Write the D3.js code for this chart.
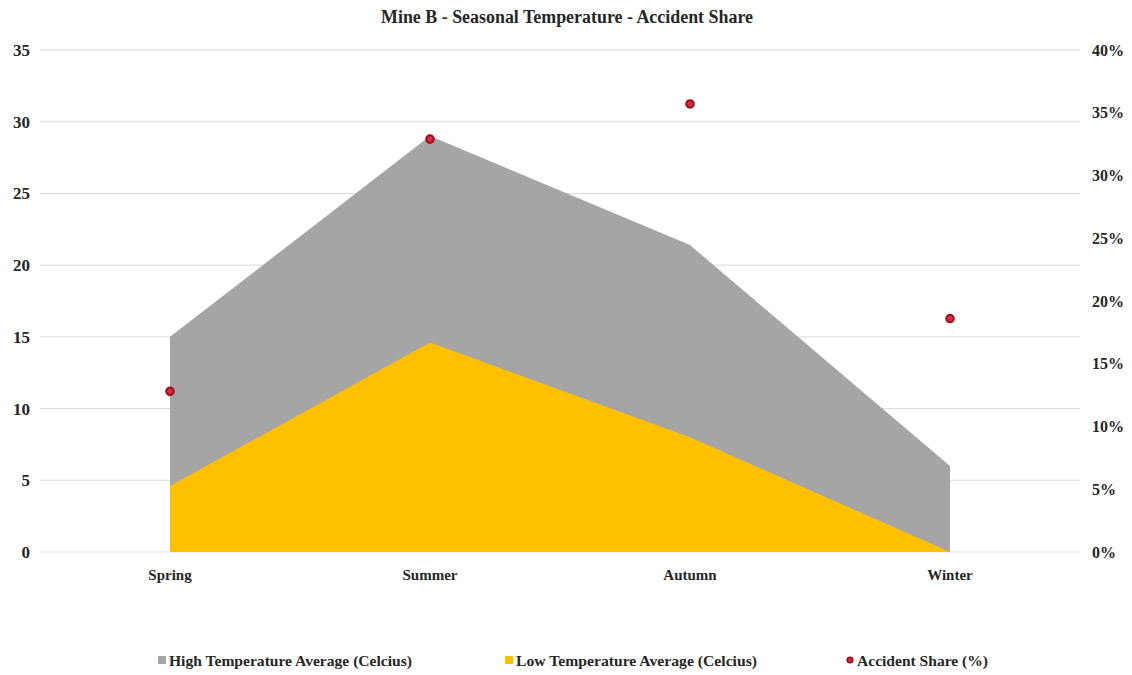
<!DOCTYPE html>
<html>
<head>
<meta charset="utf-8">
<script src="https://cdn.jsdelivr.net/npm/d3@7"></script>
<style>
  html, body { margin: 0; padding: 0; background: #ffffff; }
  svg { display: block; }
  text { font-family: "Liberation Serif", "Times New Roman", serif; font-weight: bold; fill: #262626; }
</style>
</head>
<body>
<svg id="chart" width="1132" height="675"></svg>
<script>
// Seasonal data for Mine B
const seasons = ["Spring", "Summer", "Autumn", "Winter"];
const highTemp = [15.0, 29.0, 21.4, 6.0];
const lowTemp = [4.6, 14.6, 8.0, 0.0];
const accidentShare = [12.8, 32.9, 35.7, 18.6];
const leftTicks = [0, 5, 10, 15, 20, 25, 30, 35];
const rightTicks = [0, 5, 10, 15, 20, 25, 30, 35, 40];

const svg = d3.select("#chart");
const margin = { left: 40, right: 52, top: 50, bottom: 123 };
const W = 1132, H = 675;
const x0 = margin.left, x1 = W - margin.right;
const y0 = H - margin.bottom, y1 = margin.top;

const x = d3.scaleBand().domain(seasons).range([x0, x1]);
const cx = d => x(d) + x.bandwidth() / 2;
const yL = d3.scaleLinear().domain([0, 35]).range([y0, y1]);
const yR = d3.scaleLinear().domain([0, 40]).range([y0, y1]);

// title
svg.append("text")
  .attr("x", W / 2 + 1).attr("y", 23)
  .attr("text-anchor", "middle")
  .attr("textLength", 372).attr("lengthAdjust", "spacingAndGlyphs")
  .style("font-size", "18px")
  .text("Mine B - Seasonal Temperature - Accident Share");

// gridlines
svg.append("g").selectAll("line").data(leftTicks).join("line")
  .attr("x1", x0).attr("x2", x1)
  .attr("y1", d => yL(d)).attr("y2", d => yL(d))
  .attr("stroke", "#d9d9d9").attr("stroke-width", 1);

function styleTicks(g, size) {
  g.select(".domain").remove();
  g.selectAll("text")
    .style("font-size", size)
    .style("font-family", "Liberation Serif")
    .style("font-weight", "bold")
    .attr("fill", "#262626");
}

// left axis labels
const gL = svg.append("g").attr("transform", `translate(${x0},0)`)
  .call(d3.axisLeft(yL).tickValues(leftTicks).tickSize(0).tickPadding(10).tickFormat(d3.format("d")));
styleTicks(gL, "17px");

// right axis labels
const gR = svg.append("g").attr("transform", `translate(${x1},0)`)
  .call(d3.axisRight(yR).tickValues(rightTicks).tickSize(0).tickPadding(12).tickFormat(d => d + "%"));
styleTicks(gR, "16px");

// areas (overlapping, high behind low)
const area = d3.area().x((d, i) => cx(seasons[i])).y0(yL(0)).y1(d => yL(d));
svg.append("path").datum(highTemp).attr("d", area).attr("fill", "#a5a5a5");
svg.append("path").datum(lowTemp).attr("d", area).attr("fill", "#ffc000");

// category labels
const gX = svg.append("g").attr("transform", `translate(0,${y0})`)
  .call(d3.axisBottom(x).tickSize(0).tickPadding(17));
styleTicks(gX, "15px");

// accident share markers
svg.append("g").selectAll("circle").data(accidentShare).join("circle")
  .attr("cx", (d, i) => cx(seasons[i]))
  .attr("cy", d => yR(d))
  .attr("r", 3.8)
  .attr("fill", "#d8283a")
  .attr("stroke", "#9c0f1c")
  .attr("stroke-width", 2);

// legend
const ly = 661;
const legend = svg.append("g");
const items = [
  { label: "High Temperature Average (Celcius)", color: "#a5a5a5", kind: "rect", x: 158, w: 243 },
  { label: "Low Temperature Average (Celcius)", color: "#ffc000", kind: "rect", x: 505, w: 241 },
  { label: "Accident Share (%)", color: "#d8283a", kind: "circle", x: 846, w: 131 }
];
items.forEach(it => {
  if (it.kind === "rect") {
    legend.append("rect").attr("x", it.x).attr("y", ly - 5).attr("width", 8).attr("height", 8).attr("fill", it.color);
  } else {
    legend.append("circle").attr("cx", it.x + 4).attr("cy", ly - 1).attr("r", 2.8)
      .attr("fill", it.color).attr("stroke", "#9c0f1c").attr("stroke-width", 1.6);
  }
  legend.append("text")
    .attr("x", it.x + 11).attr("y", ly + 5)
    .attr("textLength", it.w).attr("lengthAdjust", "spacingAndGlyphs")
    .style("font-size", "15px")
    .text(it.label);
});
</script>
</body>
</html>
